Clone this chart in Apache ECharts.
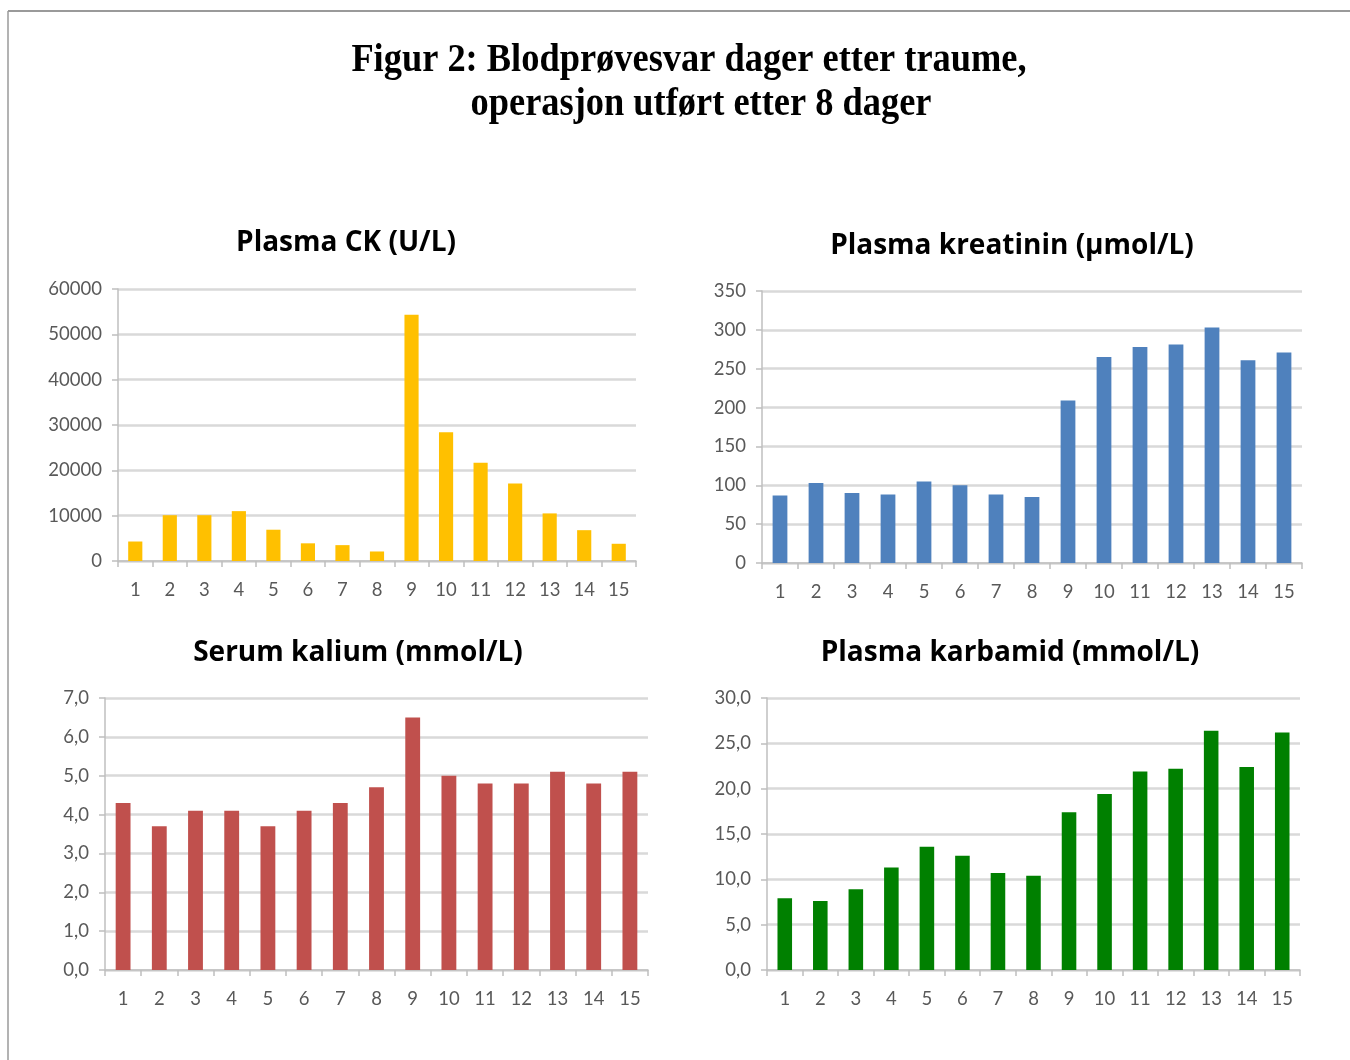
<!DOCTYPE html>
<html>
<head>
<meta charset="utf-8">
<style>
  html, body { margin: 0; padding: 0; background: #fff; }
  #chart { width: 1350px; height: 1060px; }
</style>
<script src="https://cdn.jsdelivr.net/npm/echarts@6/dist/echarts.min.js"></script>
</head>
<body>
<div id="chart"></div>
<script>
// ---- Data ----
const days = ['1','2','3','4','5','6','7','8','9','10','11','12','13','14','15'];
const ckValues = [4300, 10100, 10100, 11000, 6900, 3900, 3500, 2100, 54300, 28400, 21700, 17100, 10500, 6800, 3800];
const kreatininValues = [87, 103, 90, 88, 105, 100, 88, 85, 209, 265, 278, 281, 303, 261, 271];
const kaliumValues = [4.3, 3.7, 4.1, 4.1, 3.7, 4.1, 4.3, 4.7, 6.5, 5.0, 4.8, 4.8, 5.1, 4.8, 5.1];
const karbamidValues = [7.9, 7.6, 8.9, 11.3, 13.6, 12.6, 10.7, 10.4, 17.4, 19.4, 21.9, 22.2, 26.4, 22.4, 26.2];

const mainTitle1 = 'Figur 2: Blodprøvesvar dager etter traume,';
const mainTitle2 = 'operasjon utført etter 8 dager';
const panelTitles = ['Plasma CK (U/L)', 'Plasma kreatinin (µmol/L)', 'Serum kalium (mmol/L)', 'Plasma karbamid (mmol/L)'];
const yMax = [60000, 350, 7, 30];
const yStep = [10000, 50, 1, 5];
const colors = ['#FFC000', '#4F81BD', '#C0504D', '#008000'];
const seriesData = [ckValues, kreatininValues, kaliumValues, karbamidValues];

// ---- Layout ----
const grids = [
  { left: 118, top: 289, width: 518, height: 272 },
  { left: 762, top: 291, width: 540, height: 272 },
  { left: 105, top: 698, width: 543, height: 272 },
  { left: 767, top: 698, width: 533, height: 272 }
];
const titlePos = [
  { x: 346, y: 243 },
  { x: 1012, y: 246 },
  { x: 358, y: 653 },
  { x: 1010, y: 653 }
];
const decimalFmt = [false, false, true, true];

const labelFont = 'Lato';
const chart = echarts.init(document.getElementById('chart'));

const option = {
  backgroundColor: '#ffffff',
  animation: false,
  grid: grids.map(g => Object.assign({ containLabel: false }, g)),
  xAxis: grids.map((g, i) => ({
    type: 'category',
    gridIndex: i,
    data: days,
    boundaryGap: true,
    axisLine: { lineStyle: { color: '#bfbfbf', width: 1.5 } },
    axisTick: { show: true, length: 6, lineStyle: { color: '#bfbfbf', width: 1.5 } },
    axisLabel: { color: '#595959', fontFamily: labelFont, fontSize: 18.5, margin: 20 },
    splitLine: { show: false }
  })),
  yAxis: grids.map((g, i) => ({
    type: 'value',
    gridIndex: i,
    min: 0,
    max: yMax[i],
    interval: yStep[i],
    axisLine: { show: true, lineStyle: { color: '#bfbfbf', width: 1.5 } },
    axisTick: { show: true, length: 6, lineStyle: { color: '#bfbfbf', width: 1.5 } },
    axisLabel: {
      color: '#595959', fontFamily: labelFont, fontSize: 18.5, margin: 16,
      formatter: v => decimalFmt[i] ? v.toFixed(1).replace('.', ',') : String(v)
    },
    splitLine: { show: true, lineStyle: { color: '#d9d9d9', width: 2.5 } }
  })),
  series: seriesData.map((d, i) => ({
    type: 'bar',
    xAxisIndex: i,
    yAxisIndex: i,
    data: d,
    barWidth: '41%',
    itemStyle: { color: colors[i] }
  })),
  graphic: [
    { type: 'line', shape: { x1: 8, y1: 11, x2: 1350, y2: 11 }, style: { stroke: '#9a9a9a', lineWidth: 2 } },
    { type: 'line', shape: { x1: 8, y1: 11, x2: 8, y2: 1060 }, style: { stroke: '#9a9a9a', lineWidth: 1.5 } },
    { type: 'text', x: 689, y: 61, scaleX: 0.91,
      style: { text: mainTitle1, font: 'bold 40px "Liberation Serif"', fill: '#000', textAlign: 'center', textVerticalAlign: 'middle' } },
    { type: 'text', x: 701, y: 105, scaleX: 0.91,
      style: { text: mainTitle2, font: 'bold 40px "Liberation Serif"', fill: '#000', textAlign: 'center', textVerticalAlign: 'middle' } }
  ].concat(panelTitles.map((t, i) => ({
    type: 'text', x: titlePos[i].x, y: titlePos[i].y,
    style: { text: t, font: 'bold 28px "Open Sans"', fill: '#000', textAlign: 'center', textVerticalAlign: 'middle' }
  })))
};
chart.setOption(option);
</script>
</body>
</html>
